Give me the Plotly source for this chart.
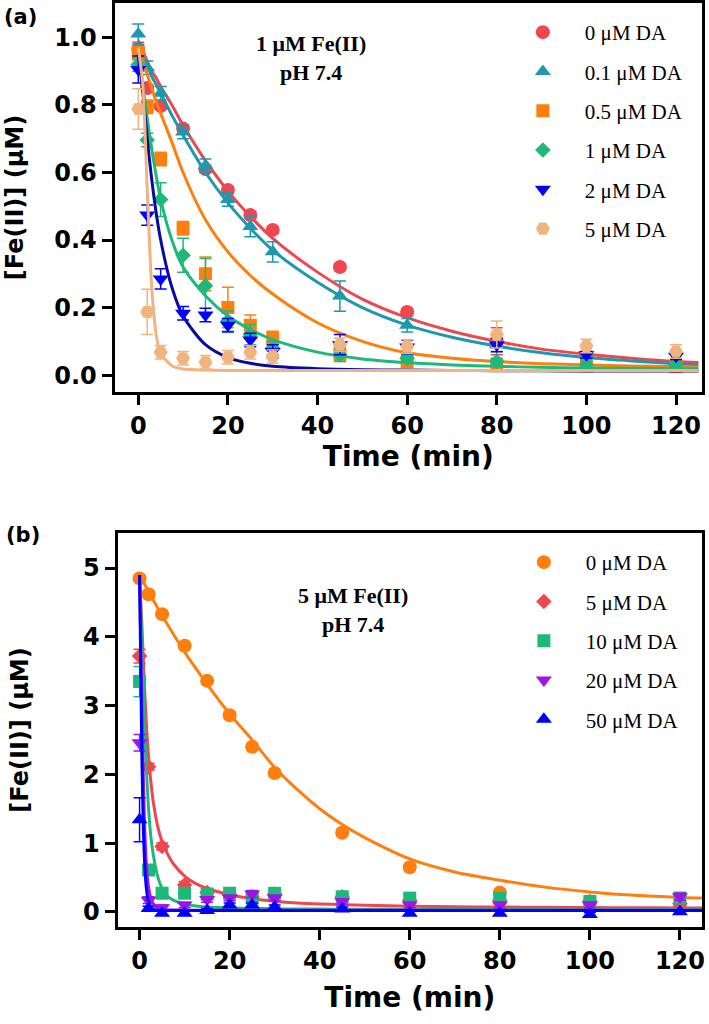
import plotly.graph_objects as go

# ---------------- panel (a): 1 uM Fe(II), pH 7.4 ----------------
t_a = [0, 2, 5, 10, 15, 20, 25, 30, 45, 60, 80, 100, 120]

names_a = ["0 μM DA", "0.1 μM DA", "0.5 μM DA", "1 μM DA", "2 μM DA", "5 μM DA"]

fe_a_da0 = [0.966, 0.85, 0.797, 0.73, 0.61, 0.548, 0.474, 0.43, 0.32, 0.187, 0.10, 0.056, 0.035]
fe_a_da01 = [1.01, 0.91, 0.835, 0.72, 0.62, 0.52, 0.44, 0.365, 0.234, 0.148, 0.09, 0.06, 0.04]
fe_a_da05 = [0.953, 0.795, 0.64, 0.435, 0.30, 0.20, 0.148, 0.11, 0.062, 0.04, 0.03, 0.027, 0.025]
fe_a_da1 = [0.92, 0.696, 0.52, 0.355, 0.265, 0.16, 0.12, 0.08, 0.06, 0.05, 0.04, 0.03, 0.03]
fe_a_da2 = [0.905, 0.474, 0.285, 0.183, 0.178, 0.148, 0.104, 0.07, 0.09, 0.083, 0.089, 0.06, 0.056]
fe_a_da5 = [0.788, 0.187, 0.068, 0.05, 0.038, 0.053, 0.068, 0.055, 0.09, 0.085, 0.12, 0.086, 0.07]

err_a_da0 = [0.02, 0.01, 0.01, 0.01, 0.01, 0.01, 0.01, 0.01, 0.01, 0.01, 0.04, 0.01, 0.01]
err_a_da01 = [0.03, 0.02, 0.02, 0.02, 0.02, 0.02, 0.03, 0.03, 0.045, 0.02, 0.02, 0.01, 0.01]
err_a_da05 = [0.02, 0.02, 0.02, 0.02, 0.05, 0.06, 0.03, 0.02, 0.02, 0.01, 0.01, 0.01, 0.01]
err_a_da1 = [0.02, 0.02, 0.05, 0.05, 0.08, 0.03, 0.03, 0.02, 0.02, 0.01, 0.01, 0.01, 0.01]
err_a_da2 = [0.04, 0.03, 0.03, 0.02, 0.02, 0.02, 0.02, 0.02, 0.03, 0.02, 0.02, 0.01, 0.01]
err_a_da5 = [0.06, 0.067, 0.02, 0.02, 0.02, 0.02, 0.02, 0.02, 0.02, 0.02, 0.04, 0.02, 0.02]

# fitted curves
t_fit_a = [0, 1, 2, 3, 4, 5, 7.5, 10, 15, 20, 25, 30, 40, 50, 60, 70, 80, 90, 100, 110, 120, 125]
fit_a_da0 = [0.99, 0.96, 0.93, 0.90, 0.88, 0.855, 0.80, 0.74, 0.635, 0.545, 0.47, 0.405, 0.305, 0.225,
             0.17, 0.13, 0.10, 0.077, 0.062, 0.05, 0.04, 0.037]
fit_a_da01 = [0.99, 0.95, 0.92, 0.885, 0.86, 0.835, 0.77, 0.71, 0.60, 0.51, 0.435, 0.37, 0.275, 0.20,
              0.148, 0.112, 0.086, 0.066, 0.052, 0.042, 0.034, 0.031]
fit_a_da05 = [0.97, 0.93, 0.89, 0.85, 0.81, 0.775, 0.69, 0.60, 0.46, 0.365, 0.295, 0.24, 0.155, 0.10,
              0.066, 0.05, 0.04, 0.034, 0.03, 0.027, 0.025, 0.024]
fit_a_da1 = [0.97, 0.86, 0.76, 0.67, 0.59, 0.52, 0.40, 0.32, 0.235, 0.175, 0.135, 0.105, 0.068, 0.048,
             0.037, 0.03, 0.026, 0.023, 0.021, 0.02, 0.019, 0.019]
fit_a_da2 = [0.95, 0.84, 0.70, 0.58, 0.48, 0.40, 0.26, 0.175, 0.09, 0.052, 0.035, 0.026, 0.019, 0.016,
             0.015, 0.014, 0.013, 0.013, 0.012, 0.012, 0.012, 0.012]
fit_a_da5 = [0.97, 0.86, 0.55, 0.26, 0.12, 0.065, 0.028, 0.018, 0.015, 0.014, 0.014, 0.014, 0.014, 0.014,
             0.014, 0.014, 0.014, 0.014, 0.014, 0.014, 0.014, 0.014]

# ---------------- panel (b): 5 uM Fe(II), pH 7.4 ----------------
t_b = [0, 2, 5, 10, 15, 20, 25, 30, 45, 60, 80, 100, 120]

names_b = ["0 μM DA", "5 μM DA", "10 μM DA", "20 μM DA", "50 μM DA"]

fe_b_da0 = [4.85, 4.62, 4.33, 3.87, 3.36, 2.86, 2.40, 2.02, 1.15, 0.65, 0.28, 0.14, 0.09]
fe_b_da5 = [3.72, 2.11, 0.95, 0.39, 0.28, 0.25, 0.22, 0.26, 0.22, 0.17, 0.17, 0.15, 0.12]
fe_b_da10 = [3.35, 0.61, 0.27, 0.27, 0.26, 0.27, 0.20, 0.27, 0.22, 0.20, 0.20, 0.15, 0.20]
fe_b_da20 = [2.46, 0.17, 0.06, 0.10, 0.18, 0.20, 0.26, 0.20, 0.15, 0.10, 0.10, 0.10, 0.22]
fe_b_da50 = [1.34, 0.05, -0.02, -0.02, 0.02, 0.10, 0.10, 0.07, 0.04, -0.02, -0.02, -0.04, 0.0]

err_b_da0 = [0.05, 0.05, 0.05, 0.05, 0.05, 0.05, 0.05, 0.05, 0.05, 0.05, 0.05, 0.05, 0.05]
err_b_da5 = [0.10, 0.05, 0.05, 0.05, 0.05, 0.05, 0.05, 0.05, 0.05, 0.05, 0.05, 0.05, 0.05]
err_b_da10 = [0.22, 0.06, 0.05, 0.05, 0.05, 0.05, 0.05, 0.05, 0.05, 0.05, 0.05, 0.05, 0.05]
err_b_da20 = [0.12, 0.05, 0.04, 0.04, 0.04, 0.04, 0.05, 0.04, 0.04, 0.04, 0.04, 0.04, 0.05]
err_b_da50 = [0.32, 0.03, 0.03, 0.03, 0.03, 0.03, 0.03, 0.03, 0.03, 0.03, 0.03, 0.03, 0.03]

t_fit_b = [0, 0.5, 1, 1.5, 2, 2.5, 3, 4, 5, 6, 7.5, 10, 12.5, 15, 20, 25, 30, 35, 40, 45, 50, 60, 70,
           80, 90, 100, 110, 120, 125]
fit_b_da0 = [4.9, 4.84, 4.78, 4.72, 4.66, 4.6, 4.54, 4.42, 4.31, 4.2, 4.04, 3.78, 3.54, 3.31, 2.88, 2.5,
             2.1, 1.78, 1.5, 1.27, 1.08, 0.77, 0.58, 0.46, 0.36, 0.29, 0.24, 0.21, 0.2]
fit_b_da5 = [4.85, 4.2, 3.4, 2.75, 2.25, 1.9, 1.62, 1.25, 1.02, 0.87, 0.7, 0.52, 0.41, 0.34, 0.25, 0.19,
             0.155, 0.13, 0.115, 0.105, 0.095, 0.082, 0.075, 0.07, 0.066, 0.063, 0.06, 0.058, 0.057]
fit_b_da10 = [4.9, 3.9, 2.9, 2.1, 1.5, 1.1, 0.85, 0.52, 0.34, 0.24, 0.17, 0.11, 0.085, 0.072, 0.058, 0.05,
              0.045, 0.042, 0.04, 0.039, 0.038, 0.036, 0.035, 0.034, 0.033, 0.032, 0.032, 0.031, 0.031]
fit_b_da20 = [4.9, 3.0, 1.5, 0.7, 0.35, 0.2, 0.12, 0.06, 0.04, 0.03, 0.027, 0.025, 0.025, 0.025, 0.025,
              0.025, 0.025, 0.025, 0.025, 0.025, 0.025, 0.025, 0.025, 0.025, 0.025, 0.025, 0.025, 0.025, 0.025]
fit_b_da50 = [4.9, 2.3, 0.9, 0.35, 0.14, 0.07, 0.04, 0.025, 0.02, 0.02, 0.02, 0.02, 0.02, 0.02, 0.02,
              0.02, 0.02, 0.02, 0.02, 0.02, 0.02, 0.02, 0.02, 0.02, 0.02, 0.02, 0.02, 0.02, 0.02]

W, H = 709, 1024
tick_font = dict(family="DejaVu Sans", size=24, color="black", weight="bold")
xtitle_font = dict(family="DejaVu Sans", size=28, color="black", weight="bold")
ytitle_font = dict(family="DejaVu Sans", size=24, color="black", weight="bold")
serif = dict(family="Liberation Serif, Times New Roman", size=21, color="black")
serif_bold = dict(family="Liberation Serif, Times New Roman", size=22, color="black")
panel_font = dict(family="DejaVu Sans", size=21, color="black", weight="bold")


def add_series(fig, t, y, err, t_fit, y_fit, name, color, line_color, symbol, size, xa, ya, legend, group):
    # fitted curve
    fig.add_trace(go.Scatter(
        x=t_fit, y=y_fit, mode="lines", line=dict(color=line_color, width=3, shape="spline", smoothing=0.8),
        xaxis=xa, yaxis=ya, showlegend=False, hoverinfo="skip"))
    # measured points with error bars
    fig.add_trace(go.Scatter(
        x=t, y=y, mode="markers", name=name,
        marker=dict(color=color, symbol=symbol, size=size, line=dict(width=0)),
        error_y=dict(type="data", array=err, color=color, thickness=1.5, width=6),
        xaxis=xa, yaxis=ya, legend=legend, legendgroup=group))


fig = go.Figure()

series_a = [
    (fe_a_da0, err_a_da0, fit_a_da0, "#F0464F", "#EC4850", "circle", 14),
    (fe_a_da01, err_a_da01, fit_a_da01, "#1E98AE", "#1E98AE", "triangle-up", 14),
    (fe_a_da05, err_a_da05, fit_a_da05, "#FF7F0E", "#FF7F0E", "square", 13),
    (fe_a_da1, err_a_da1, fit_a_da1, "#1DB87A", "#1DB87A", "diamond", 12),
    (fe_a_da2, err_a_da2, fit_a_da2, "#0000FF", "#0A0AA0", "triangle-down", 14),
    (fe_a_da5, err_a_da5, fit_a_da5, "#F0B47E", "#F0B47E", "hexagon2", 14),
]
for i, (y, e, f, c, lc, s, sz) in enumerate(series_a):
    add_series(fig, t_a, y, e, t_fit_a, f, names_a[i], c, lc, s, sz, "x", "y", "legend", "a%d" % i)

series_b = [
    (fe_b_da0, err_b_da0, fit_b_da0, "#FF7F0E", "#FF7F0E", "circle", 14),
    (fe_b_da5, err_b_da5, fit_b_da5, "#F0464F", "#F0464F", "diamond", 12),
    (fe_b_da10, err_b_da10, fit_b_da10, "#1DB87A", "#1DB87A", "square", 13),
    (fe_b_da20, err_b_da20, fit_b_da20, "#A012E6", "#A012E6", "triangle-down", 14),
    (fe_b_da50, err_b_da50, fit_b_da50, "#0000FF", "#0000FF", "triangle-up", 14),
]
for i, (y, e, f, c, lc, s, sz) in enumerate(series_b):
    add_series(fig, t_b, y, e, t_fit_b, f, names_b[i], c, lc, s, sz, "x2", "y2", "legend2", "b%d" % i)

axis_common = dict(
    showline=True, linewidth=3, linecolor="black", mirror=True,
    ticks="outside", ticklen=10, tickwidth=3, tickcolor="black",
    tickfont=tick_font, showgrid=False, zeroline=False,
)

fig.update_layout(
    width=W, height=H,
    margin=dict(l=0, r=0, t=0, b=0),
    paper_bgcolor="white", plot_bgcolor="white",
    xaxis=dict(domain=[115 / W, 705 / W], range=[-5.3, 125.8], tickvals=[0, 20, 40, 60, 80, 100, 120],
               anchor="y", title=dict(text="Time (min)", font=xtitle_font, standoff=0), **axis_common),
    yaxis=dict(domain=[1 - 392 / H, 1 - 3 / H], range=[-0.05, 1.102], tickvals=[0, 0.2, 0.4, 0.6, 0.8, 1.0],
               tickformat=".1f", anchor="x", title=dict(text="[Fe(II)] (μM)", font=ytitle_font, standoff=24),
               **axis_common),
    xaxis2=dict(domain=[118 / W, 705 / W], range=[-4.9, 124.9], tickvals=[0, 20, 40, 60, 80, 100, 120],
                anchor="y2", title=dict(text="Time (min)", font=xtitle_font, standoff=14), **axis_common),
    yaxis2=dict(domain=[1 - 927 / H, 1 - 533 / H], range=[-0.22, 5.51], tickvals=[0, 1, 2, 3, 4, 5],
                anchor="x2", title=dict(text="[Fe(II)] (μM)", font=ytitle_font, standoff=48), **axis_common),
    legend=dict(x=503 / W, y=1 - 12 / H, xanchor="left", yanchor="top", font=serif, itemwidth=74,
                tracegroupgap=9, bgcolor="rgba(0,0,0,0)", itemsizing="trace"),
    legend2=dict(x=504 / W, y=1 - 542 / H, xanchor="left", yanchor="top", font=serif, itemwidth=74,
                 tracegroupgap=9, bgcolor="rgba(0,0,0,0)", itemsizing="trace"),
    annotations=[
        dict(text="<b>1 μM Fe(II)<br>pH 7.4</b>", x=312 / W, y=1 - 58 / H, xref="paper", yref="paper",
             yanchor="middle", showarrow=False, font=serif_bold),
        dict(text="<b>5 μM Fe(II)<br>pH 7.4</b>", x=354 / W, y=1 - 610 / H, xref="paper", yref="paper",
             yanchor="middle", showarrow=False, font=serif_bold),
        dict(text="(a)", x=2 / W, y=1 - 17 / H, xref="paper", yref="paper", xanchor="left",
             yanchor="middle", showarrow=False, font=panel_font),
        dict(text="(b)", x=4 / W, y=1 - 535 / H, xref="paper", yref="paper", xanchor="left",
             yanchor="middle", showarrow=False, font=panel_font),
    ],
)

fig.write_html("out.html", config={"displayModeBar": False},
               post_script="document.body.style.margin='0';")
